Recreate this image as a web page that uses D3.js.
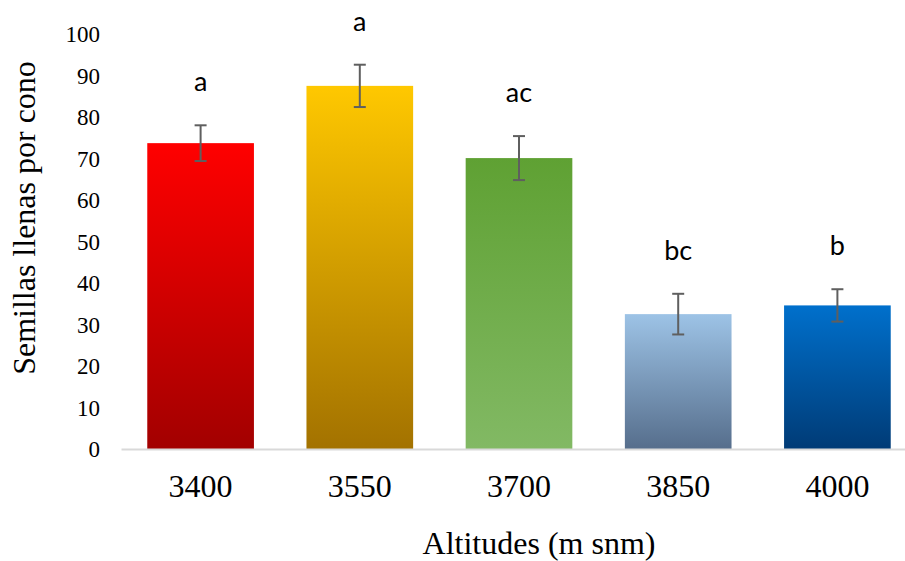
<!DOCTYPE html>
<html>
<head>
<meta charset="utf-8">
<script src="https://cdn.jsdelivr.net/npm/d3@7"></script>
<style>
  body { margin: 0; background: #fff; }
</style>
</head>
<body>
<div id="chart"></div>
<script>
// data
const altitudes = ['3400', '3550', '3700', '3850', '4000'];
const means = [73.7, 87.5, 70.1, 32.5, 34.6];
const errors = [4.3, 5.1, 5.3, 4.9, 3.9];
const letters = ['a', 'a', 'ac', 'bc', 'b'];
const yTicks = [0, 10, 20, 30, 40, 50, 60, 70, 80, 90, 100];
// top / bottom colour of each bar's gradient
const topColors = ['#ff0000', '#ffc800', '#5fa133', '#9dc3e6', '#0070cc'];
const bottomColors = ['#a20000', '#a37200', '#82b964', '#566e8c', '#003b76'];

const serif = '"Liberation Serif", "Times New Roman", serif';
const sans = 'Lato, "Open Sans", sans-serif';

const W = 905, H = 561;
const svg = d3.select('#chart').append('svg')
    .attr('width', W)
    .attr('height', H);

const x = d3.scaleBand()
    .domain(altitudes)
    .range([121, 917])
    .paddingInner(0.33)
    .paddingOuter(0.165);

const y = d3.scaleLinear()
    .domain([0, 100])
    .range([449, 34]);

// gradients
const defs = svg.append('defs');
altitudes.forEach((a, i) => {
    const g = defs.append('linearGradient')
        .attr('id', 'grad' + i)
        .attr('x1', 0).attr('y1', 0)
        .attr('x2', 0).attr('y2', 1);
    g.append('stop').attr('offset', '0%').attr('stop-color', topColors[i]);
    g.append('stop').attr('offset', '100%').attr('stop-color', bottomColors[i]);
});

// y axis: labels only
const yAxis = svg.append('g')
    .attr('transform', 'translate(121,0)')
    .call(d3.axisLeft(y).tickValues(yTicks).tickSize(0).tickPadding(21));
yAxis.select('.domain').remove();
yAxis.selectAll('text')
    .attr('font-family', serif)
    .attr('font-size', 23)
    .attr('fill', '#000')
    .attr('dy', '0.34em');

// bars
svg.selectAll('.bar')
    .data(altitudes)
    .enter()
    .append('rect')
    .attr('class', 'bar')
    .attr('x', d => x(d))
    .attr('y', (d, i) => y(means[i]))
    .attr('width', x.bandwidth())
    .attr('height', (d, i) => y(0) - y(means[i]))
    .attr('fill', (d, i) => 'url(#grad' + i + ')');

// x axis
const xAxis = svg.append('g')
    .attr('transform', 'translate(0,' + y(0) + ')')
    .call(d3.axisBottom(x).tickSize(0));
xAxis.select('.domain')
    .attr('stroke', '#d9d9d9')
    .attr('stroke-width', 2);
xAxis.selectAll('text')
    .attr('font-family', serif)
    .attr('font-size', 32)
    .attr('fill', '#000')
    .attr('y', 48)
    .attr('dy', 0);

// error bars
const eb = svg.selectAll('.err')
    .data(altitudes)
    .enter()
    .append('g')
    .attr('class', 'err')
    .attr('stroke', '#5f5f5f')
    .attr('stroke-width', 2);
eb.append('line')
    .attr('x1', d => x(d) + x.bandwidth() / 2)
    .attr('x2', d => x(d) + x.bandwidth() / 2)
    .attr('y1', (d, i) => y(means[i] + errors[i]))
    .attr('y2', (d, i) => y(means[i] - errors[i]));
eb.append('line')
    .attr('x1', d => x(d) + x.bandwidth() / 2 - 6)
    .attr('x2', d => x(d) + x.bandwidth() / 2 + 6)
    .attr('y1', (d, i) => y(means[i] + errors[i]))
    .attr('y2', (d, i) => y(means[i] + errors[i]));
eb.append('line')
    .attr('x1', d => x(d) + x.bandwidth() / 2 - 6)
    .attr('x2', d => x(d) + x.bandwidth() / 2 + 6)
    .attr('y1', (d, i) => y(means[i] - errors[i]))
    .attr('y2', (d, i) => y(means[i] - errors[i]));

// significance letters
svg.selectAll('.letter')
    .data(altitudes)
    .enter()
    .append('text')
    .attr('class', 'letter')
    .attr('font-family', sans)
    .attr('font-size', 27)
    .attr('fill', '#000')
    .attr('text-anchor', 'middle')
    .attr('x', d => x(d) + x.bandwidth() / 2)
    .attr('y', (d, i) => y(means[i] + errors[i]) - 34)
    .text((d, i) => letters[i]);

// axis titles
svg.append('text')
    .attr('font-family', serif)
    .attr('font-size', 32)
    .attr('text-anchor', 'middle')
    .attr('x', 539)
    .attr('y', 554)
    .text('Altitudes (m snm)');

svg.append('text')
    .attr('font-family', serif)
    .attr('font-size', 32)
    .attr('text-anchor', 'middle')
    .attr('transform', 'translate(35,218) rotate(-90)')
    .text('Semillas llenas por cono');
</script>
</body>
</html>
